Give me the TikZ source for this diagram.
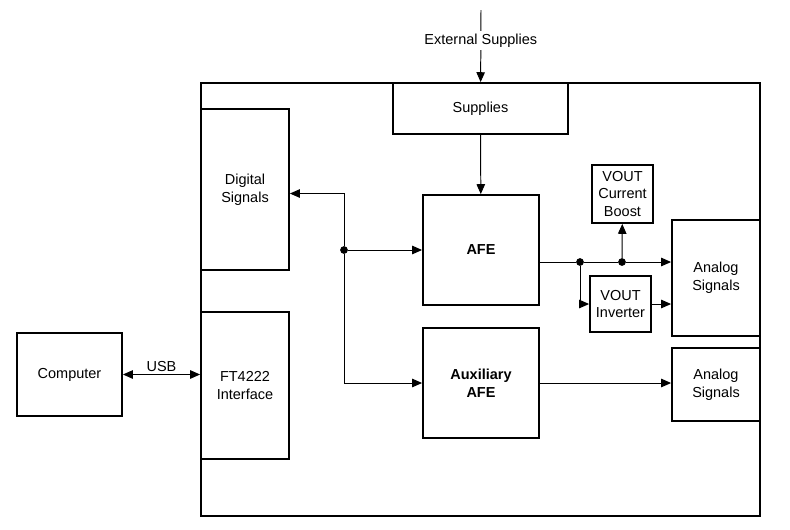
\documentclass[tikz,border=0pt]{standalone}
\usepackage{fontspec}
\setmainfont{Liberation Sans}
\usetikzlibrary{positioning,arrows.meta}

\begin{document}
\begin{tikzpicture}[
    x=0.025cm, y=-0.025cm,
    >={Triangle[length=7pt,width=6pt]},
    block/.style={draw, line width=1.3pt, rectangle, align=center, inner sep=0pt},
    wire/.style={line width=0.7pt},
    dot/.style={circle, fill, inner sep=0pt, minimum size=5.5pt},
    every node/.style={font=\fontsize{10.3}{12.5}\selectfont}
]
\useasboundingbox (0,0) rectangle (790,529);

% Board outline
\draw[line width=1.3pt] (201,83) rectangle (760,516);

% Blocks
\node[block, minimum width=2.625cm, minimum height=2.075cm] (computer) at (69.5,374.5) {Computer};
\node[block, minimum width=2.2cm, minimum height=4.025cm] (digital) at (245,189.5) {Digital\\Signals};
\node[block, minimum width=2.2cm, minimum height=3.675cm, text height=20pt] (ftdi) at (245,385.5) {FT4222\\Interface};
\node[block, minimum width=4.375cm, minimum height=1.275cm] (supplies) at (480.5,108.5) {Supplies};
\node[block, minimum width=2.9cm, minimum height=2.75cm, font=\fontsize{10.3}{12.5}\selectfont\bfseries] (afe) at (481,250) {AFE};
\node[block, minimum width=2.9cm, minimum height=2.75cm, font=\fontsize{10.3}{12.5}\selectfont\bfseries] (auxafe) at (481,383) {Auxiliary\\AFE};
\node[block, minimum width=1.525cm, minimum height=1.45cm] (boost) at (622.5,194) {VOUT\\Current\\Boost};
\node[block, minimum width=1.525cm, minimum height=1.4cm] (inverter) at (620.5,304) {VOUT\\Inverter};
\node[block, minimum width=2.2cm, minimum height=2.9cm] (analog1) at (716,278) {Analog\\Signals};
\node[block, minimum width=2.2cm, minimum height=1.825cm] (analog2) at (716,384.5) {Analog\\Signals};

% Junctions
\coordinate (ext) at (481,10);
\node[dot] (j1) at (344,250) {};
\node[dot] (j2) at (580,262) {};
\node[dot] (j3) at (622,262) {};

% Connections
\draw[->, wire] (ext) -- (supplies) node[pos=0.42, fill=white, inner sep=2pt] {External Supplies};
\draw[->, wire] (supplies) -- (afe);
\draw[<->, wire] (computer) -- (ftdi.west |- computer) node[midway, above, inner sep=1.5pt] {USB};

\draw[->, wire] (j1) |- ([yshift=-2.85pt]digital.east);
\draw[->, wire] (j1) -- (afe);
\draw[->, wire] (j1) |- (auxafe);

\draw[wire] (afe.east |- j2) -- (j2) -- (j3);
\draw[->, wire] (j3) -- (analog1.west |- j3);
\draw[->, wire] (j3) -- (boost);
\draw[->, wire] (j2) |- (inverter.west);
\draw[->, wire] (inverter) -- (analog1.west |- inverter);
\draw[->, wire] (auxafe) -- (analog2.west |- auxafe);

\end{tikzpicture}
\end{document}
